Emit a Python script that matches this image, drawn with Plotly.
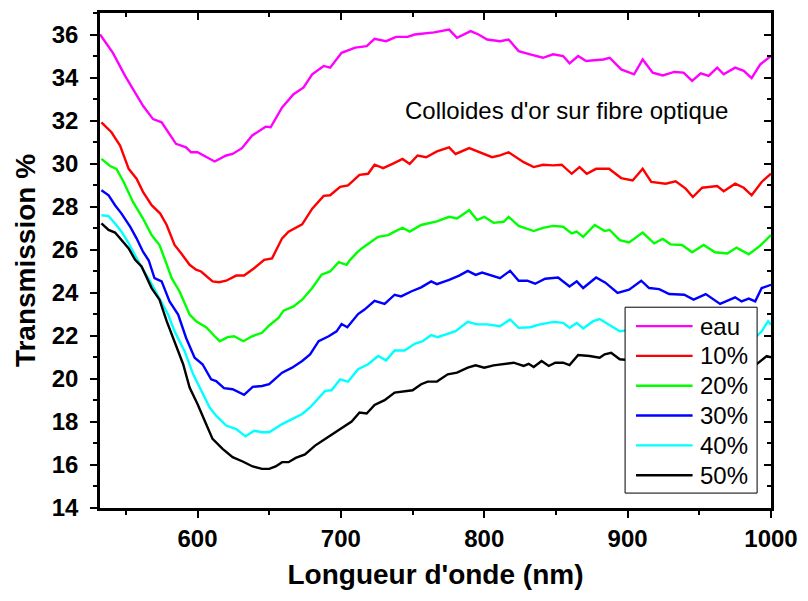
import plotly.graph_objects as go

eau = [(532,36.0),(541,35.15),(549.5,34.08),(555,33.46),(562,32.69),(569,32.07),(575,31.92),(585,30.92),(592,30.76),(595.5,30.53),(600,30.53),(612,30.10),(620,30.38),(624.5,30.45),(631,30.72),(638,31.3),(647.5,31.72),(651,31.69),(659,32.61),(667,33.23),(674,33.54),(680,34.15),(688,34.54),(692.5,34.46),(700.5,35.15),(710,35.39),(718,35.46),(723.5,35.8),(731.5,35.69),(738.5,35.89),(746.5,35.89),(751.5,36.0),(765,36.1),(775.5,36.23),(781,35.85),(790.5,36.16),(796,36.0),(802,35.77),(811,35.69),(817,35.77),(824,35.23),(832,35.08),(841,34.92),(848,35.08),(855,35.0),(859.5,34.66),(865.5,35.0),(871,34.77),(883,34.84),(887.5,34.92),(895.5,34.38),(904.5,34.15),(910.5,34.84),(917.5,34.23),(924.5,34.1),(932.5,34.26),(939,34.23),(945,33.85),(951,34.2),(956.5,34.08),(962.5,34.46),(967,34.15),(975,34.46),(981,34.31),(986.5,33.97),(992.5,34.61),(1000,35.0)]

p10 = [(533,31.92),(540,31.46),(546,30.84),(552,29.76),(557.5,29.3),(562,28.69),(568,28.07),(574,27.68),(578.5,27.15),(584,26.22),(589,25.8),(594.5,25.3),(599,25.07),(602.5,24.99),(610.5,24.53),(615,24.49),(620,24.56),(627,24.8),(632.5,24.8),(639.5,25.14),(646.5,25.53),(652,25.6),(659,26.53),(663.5,26.84),(673,27.18),(680,27.91),(688,28.5),(692.5,28.53),(699.5,28.92),(705,28.99),(713,29.48),(719,29.53),(723.5,29.95),(729.5,29.79),(736,29.99),(743,30.22),(748,29.99),(753.5,30.38),(759.5,30.3),(767,30.57),(775.5,30.76),(780,30.45),(789.5,30.72),(795,30.57),(805.5,30.3),(811,30.38),(817,30.53),(827.5,30.07),(834.5,29.84),(841,29.95),(848,29.92),(854,29.95),(861,29.53),(866.5,29.84),(871.5,29.53),(878,29.76),(887,29.76),(895.5,29.33),(903.5,29.22),(910.5,29.76),(916.5,29.15),(926.5,29.07),(933.5,29.18),(940.5,28.84),(945.5,28.45),(952,28.88),(962.5,28.96),(967,28.72),(975,29.07),(981,28.88),(986.5,28.53),(993.5,29.15),(1000,29.53)]

p20 = [(533,30.22),(539,29.89),(543.5,29.76),(548.5,29.15),(555,28.22),(562,27.45),(568,26.68),(573.5,26.22),(577,25.6),(582,24.68),(587.5,24.06),(594.5,22.99),(599,22.68),(606,22.4),(612,21.98),(615.5,21.75),(621,21.94),(625.5,21.98),(632,21.75),(638,21.98),(645,22.14),(650,22.48),(656.5,22.83),(660,23.17),(667,23.37),(673,23.68),(680,24.22),(686.5,24.84),(692.5,24.99),(698.5,25.42),(704,25.3),(706.5,25.53),(711,25.85),(714.5,26.06),(726,26.6),(733,26.68),(737.5,26.84),(743,27.02),(748,26.84),(756,27.15),(767,27.32),(775.5,27.53),(781,27.45),(789.5,27.84),(795,27.38),(800,27.53),(806.5,27.25),(813.5,27.3),(817,27.53),(824,27.11),(834.5,26.87),(841,27.02),(848,27.11),(855,27.07),(861,26.76),(864.5,26.84),(869,26.6),(877,27.15),(884,26.87),(887.5,26.92),(894.5,26.45),(901,26.34),(910.5,26.8),(918.5,26.3),(924.5,26.5),(930,26.25),(938,26.22),(945,25.88),(953,26.22),(961,25.88),(969.5,25.83),(976,26.1),(984.5,25.79),(992.5,26.19),(1000,26.68)]

p30 = [(533,28.76),(538,28.53),(542.5,28.07),(547,27.68),(553,27.07),(557.5,26.53),(562,25.91),(566,25.5),(570,24.68),(575,24.53),(580.5,23.6),(586.5,22.99),(592,21.91),(598,20.98),(603.5,20.68),(609.5,19.98),(613,19.9),(618.5,19.57),(624.5,19.52),(632.5,19.26),(638.5,19.63),(645,19.67),(650,19.75),(659,20.29),(666,20.52),(673,20.83),(678.5,21.14),(684.5,21.75),(691.5,21.98),(697,22.21),(700.5,22.55),(704.5,22.4),(712,23.01),(716.5,23.22),(723.5,23.63),(730.5,23.48),(737.5,23.91),(742,23.83),(749,24.06),(756,24.25),(763,24.53),(767,24.4),(775.5,24.6),(782.5,24.8),(788.5,25.02),(794,24.83),(798.5,24.94),(804.5,24.83),(811,24.68),(818,25.02),(824,24.56),(830,24.56),(835.5,24.42),(842.5,24.65),(851.5,24.71),(859.5,24.29),(864.5,24.53),(869,24.22),(878,24.71),(884.5,24.47),(893,23.99),(901,24.14),(909.5,24.56),(915,24.22),(922,24.17),(929,23.94),(939.5,23.91),(946,23.68),(954.5,23.94),(964.5,23.48),(975,23.79),(979.5,23.6),(984.5,23.73),(989,23.6),(993.5,24.22),(1000,24.37)]

p40 = [(533,27.6),(538,27.56),(542.5,27.22),(547,26.84),(552,26.3),(555,25.91),(557.5,25.6),(560,25.3),(567,24.53),(573.5,23.75),(579.5,22.99),(584,22.21),(591,21.29),(597,20.21),(601.5,19.6),(608.5,18.67),(613,18.29),(620,17.83),(627,17.67),(633.5,17.33),(639.5,17.59),(645,17.52),(650,17.52),(659,17.9),(666,18.13),(673,18.37),(678.5,18.67),(684.5,19.13),(689,19.44),(693.5,19.47),(699.5,19.98),(705,19.87),(712,20.45),(719,20.68),(726,21.06),(731.5,20.86),(737.5,21.32),(744.5,21.32),(751.5,21.63),(757,21.75),(763,22.03),(767.5,21.94),(775.5,22.14),(780,22.22),(788.5,22.65),(795,22.53),(802,22.53),(811,22.45),(818,22.76),(824,22.37),(832,22.4),(839,22.53),(848.5,22.65),(855,22.6),(859.5,22.37),(864.5,22.6),(869,22.34),(876,22.68),(880.5,22.78),(885,22.6),(894.5,22.21),(905,22.3),(915,22.15),(925,22.25),(935,22.05),(945,22.15),(955,21.95),(965,22.1),(975,22.0),(983,22.1),(990,21.98),(993.5,22.21),(998,22.68),(1000,22.52)]

p50 = [(533,27.22),(538,26.92),(542.5,26.8),(547,26.45),(552,26.06),(556.5,25.53),(561,25.22),(568,24.22),(573.5,23.68),(578.5,22.68),(584,21.75),(590,20.68),(594.5,19.6),(600,18.83),(606,17.9),(610.5,17.21),(617.5,16.75),(624.5,16.36),(631.5,16.16),(638.5,15.93),(645,15.82),(650,15.82),(654.5,15.93),(659,16.13),(663.5,16.13),(668.5,16.33),(675,16.49),(682,16.9),(689,17.21),(696,17.52),(701.5,17.75),(707.5,18.02),(713,18.44),(718,18.39),(723.5,18.79),(730.5,19.01),(737.5,19.36),(744.5,19.41),(750,19.47),(756,19.75),(760.5,19.87),(767,19.88),(774.5,20.21),(781,20.29),(788.5,20.52),(794,20.63),(800,20.52),(806.5,20.63),(813.5,20.7),(820.5,20.75),(827.5,20.6),(831,20.7),(834.5,20.55),(840,20.83),(845,20.6),(849.5,20.75),(855,20.75),(859.5,20.64),(865.5,21.11),(873.5,21.06),(880.5,20.98),(884,21.14),(888.5,21.21),(894.5,20.91),(905,20.85),(915,20.9),(925,20.75),(935,20.8),(945,20.65),(955,20.7),(965,20.6),(975,20.7),(983,20.6),(990,20.68),(997,21.06),(1000,21.0)]

series_names = ["eau", "10%", "20%", "30%", "40%", "50%"]
series_data = [eau, p10, p20, p30, p40, p50]
series_colors = ["#FF00FF", "#FF0000", "#00FF00", "#0000FF", "#00FFFF", "#000000"]

x_ticks = [600, 700, 800, 900, 1000]
y_ticks = [14, 16, 18, 20, 22, 24, 26, 28, 30, 32, 34, 36]
annotation_text = "Colloides d'or sur fibre optique"

W, H = 808, 601
ML, MR, MT, MB = 100, 32, 10, 93
PW, PH = W - ML - MR, H - MT - MB


def px_x(p):  # pixel -> paper x
    return (p - ML) / PW


def px_y(p):  # pixel -> paper y
    return (H - MB - p) / PH


fig = go.Figure()
for name, data, col in zip(series_names, series_data, series_colors):
    fig.add_trace(go.Scatter(x=[p[0] for p in data], y=[p[1] for p in data],
                             mode="lines", name=name, showlegend=False,
                             line=dict(color=col, width=2.4)))

# helper trace for top/right inside ticks
fig.add_trace(go.Scatter(x=[None], y=[None], xaxis="x2", yaxis="y2",
                         showlegend=False, hoverinfo="skip"))

tickfont = dict(family="Arial, Liberation Sans", size=24, color="black", weight="bold")
titlefont = dict(family="Arial, Liberation Sans", size=28, color="black", weight="bold")

# Custom legend box (drawn above the data)
shapes = [dict(type="rect", xref="paper", yref="paper",
               x0=px_x(629), x1=px_x(762), y0=px_y(493), y1=px_y(306),
               fillcolor="white", line=dict(color="black", width=1), layer="above")]
annotations = [dict(x=743, y=32.47, xref="x", yref="y", text=annotation_text,
                    showarrow=False, xanchor="left", yanchor="middle",
                    font=dict(family="Arial, Liberation Sans", size=24, color="black"))]
for i, (name, col) in enumerate(zip(series_names, series_colors)):
    yc = 325 + 30 * i
    shapes.append(dict(type="line", xref="paper", yref="paper",
                       x0=px_x(640), x1=px_x(697), y0=px_y(yc), y1=px_y(yc),
                       line=dict(color=col, width=2.4), layer="above"))
    annotations.append(dict(x=px_x(702), y=px_y(yc), xref="paper", yref="paper",
                            text=name, showarrow=False, xanchor="left", yanchor="middle",
                            font=dict(family="Arial, Liberation Sans", size=24, color="black")))

fig.update_layout(
    width=W, height=H,
    margin=dict(l=ML, r=MR, t=MT, b=MB),
    paper_bgcolor="white", plot_bgcolor="white",
    showlegend=False,
    xaxis=dict(range=[532, 1000], tickvals=x_ticks, ticks="outside", ticklen=7,
               tickwidth=2, tickcolor="black", showgrid=False, zeroline=False,
               showline=True, linecolor="black", linewidth=2.5, mirror=True,
               tickfont=tickfont,
               minor=dict(dtick=50, tick0=550, ticks="outside", ticklen=4,
                          tickwidth=2, tickcolor="black", showgrid=False),
               title=dict(text="Longueur d'onde (nm)", font=titlefont, standoff=14)),
    yaxis=dict(range=[14, 37], tickvals=y_ticks, ticks="outside", ticklen=7,
               tickwidth=2, tickcolor="black", showgrid=False, zeroline=False,
               showline=True, linecolor="black", linewidth=2.5, mirror=True,
               tickfont=tickfont, ticklabelstandoff=7,
               minor=dict(dtick=1, tick0=15, ticks="outside", ticklen=4,
                          tickwidth=2, tickcolor="black", showgrid=False),
               title=dict(text="Transmission %", font=titlefont, standoff=8)),
    xaxis2=dict(range=[532, 1000], overlaying="x", side="top", tickvals=x_ticks,
                ticks="inside", ticklen=7, tickwidth=2, tickcolor="black",
                showticklabels=False, showgrid=False, zeroline=False, showline=False,
                minor=dict(dtick=50, tick0=550, ticks="inside", ticklen=4,
                           tickwidth=2, tickcolor="black", showgrid=False)),
    yaxis2=dict(range=[14, 37], overlaying="y", side="right", tickvals=y_ticks,
                ticks="inside", ticklen=7, tickwidth=2, tickcolor="black",
                showticklabels=False, showgrid=False, zeroline=False, showline=False,
                minor=dict(dtick=1, tick0=15, ticks="inside", ticklen=4,
                           tickwidth=2, tickcolor="black", showgrid=False)),
    shapes=shapes,
    annotations=annotations,
)

fig.write_html("out.html", config={"displayModeBar": False},
               post_script="document.body.style.margin='0';document.body.style.padding='0';document.body.style.overflow='hidden';")
